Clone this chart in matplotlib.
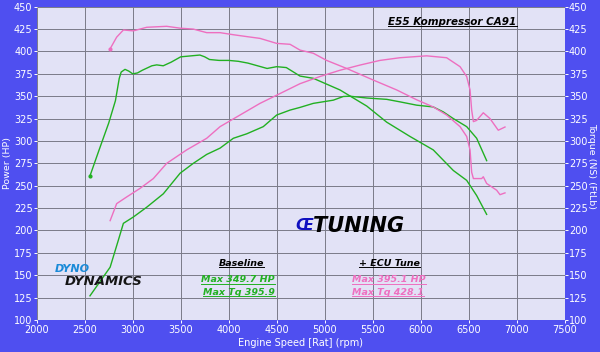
import matplotlib
matplotlib.use("Agg")
import matplotlib.pyplot as plt

# ---- data ----
base_tq_rpm = [2555, 2650, 2750, 2820, 2860, 2880, 2920, 2960, 3000, 3050, 3100, 3200, 3250, 3318,
               3400, 3500, 3600, 3700, 3750, 3800, 3900, 4000, 4100, 4200, 4300, 4400, 4500, 4600,
               4743, 4881, 5159, 5438, 5646, 5889, 6131, 6340, 6479, 6583, 6687]
base_tq = [261, 290, 320, 345, 370, 377, 380, 378, 375, 376, 379, 384, 385, 384,
           388, 394, 395, 396, 394, 391, 390, 390, 389, 387, 384, 381, 383, 382,
           372.5, 370, 357, 339, 321, 305, 290, 267, 256, 239, 218]

base_hp_rpm = [2555, 2765, 2850, 2903, 3006, 3146, 3319, 3494, 3631, 3771, 3910, 4048, 4188, 4360,
               4500, 4639, 4743, 4881, 5090, 5194, 5263, 5438, 5646, 5784, 5958, 6131, 6235, 6340,
               6479, 6583, 6687]
base_hp = [127, 159, 189, 208, 215, 226, 241, 264, 275, 285, 292, 303, 308, 316,
           329, 334.5, 337.5, 342, 345.6, 349.7, 350, 348, 346.5, 343.7, 340, 338, 332.5, 325,
           316, 303, 278]

tune_tq_rpm = [2765, 2833, 2903, 3006, 3146, 3354, 3494, 3631, 3771, 3910, 4048, 4188, 4326, 4500,
               4639, 4743, 4881, 5020, 5229, 5507, 5750, 5958, 6131, 6270, 6410, 6479, 6514, 6531,
               6549, 6635, 6652, 6687, 6791, 6826, 6878]
tune_tq = [403, 416, 424, 423, 427, 428.1, 426, 425, 421, 421, 418.7, 416.6, 414.6, 409,
           408, 401.5, 398, 390, 381, 368, 357, 346, 338, 329, 316, 305, 290, 265,
           258, 258, 260, 252.5, 245, 240, 242]

tune_hp_rpm = [2765, 2833, 2938, 3076, 3215, 3354, 3562, 3771, 3910, 4118, 4326, 4535, 4743, 4951,
               5159, 5368, 5576, 5784, 6062, 6270, 6410, 6479, 6514, 6531, 6549, 6583, 6652, 6722,
               6808, 6878]
tune_hp = [211, 230, 237.5, 247, 258, 275, 290, 303, 316, 329, 342, 353, 364, 372,
           379, 384.8, 390, 393, 395.1, 393, 383, 372, 357, 334.5, 321.6, 323, 331.5, 325,
           312, 315.6]

x_ticks = [2000, 2500, 3000, 3500, 4000, 4500, 5000, 5500, 6000, 6500, 7000, 7500]
y_ticks = [100, 125, 150, 175, 200, 225, 250, 275, 300, 325, 350, 375, 400, 425, 450]

GREEN = "#22b022"
PINK = "#ee6fc0"
BG = "#4f4ff0"
FACE = "#e2e2f6"

fig = plt.figure(figsize=(6, 3.52), dpi=100, facecolor=BG)
ax = fig.add_axes([36.7 / 600, 1 - 320 / 352, (564.7 - 36.7) / 600, (320 - 6.7) / 352])
ax.set_facecolor(FACE)

ax.plot(base_tq_rpm, base_tq, color=GREEN, lw=1.0)
ax.plot(base_hp_rpm, base_hp, color=GREEN, lw=1.0)
ax.plot(tune_tq_rpm, tune_tq, color=PINK, lw=1.0)
ax.plot(tune_hp_rpm, tune_hp, color=PINK, lw=1.0)
ax.plot([base_tq_rpm[0]], [base_tq[0]], 'o', color=GREEN, ms=2)
ax.plot([tune_tq_rpm[0]], [tune_tq[0]], 'o', color=PINK, ms=2)

ax.set_xlim(2000, 7500)
ax.set_ylim(100, 450)
ax.set_xticks(x_ticks)
ax.set_yticks(y_ticks)
ax.grid(True, color="#7a7a88", lw=0.7)
ax.set_axisbelow(True)
for s in ax.spines.values():
    s.set_visible(False)
ax.tick_params(axis='both', colors='white', labelsize=7, length=2.5, width=0.7, pad=1)
ax.tick_params(axis='y', right=True, labelright=True, left=True, labelleft=True, pad=0.5)

fig.text(300 / 600, 1 - 343 / 352, "Engine Speed [Rat] (rpm)", color="white", fontsize=7,
         ha="center", va="center")
fig.text(7.5 / 600, 1 - 163 / 352, "Power (HP)", color="white", fontsize=6.8, rotation=90,
         ha="center", va="center")
fig.text(592 / 600, 1 - 166 / 352, "Torque (NS) (FtLb)", color="white", fontsize=6.8, rotation=-90,
         ha="center", va="center")

def label(x, y, s, color, size=6.8):
    ax.text(x, y, s, color=color, fontsize=size, fontweight="bold", fontstyle="italic",
            ha="center", va="center")

label(6330, 433, "E55 Kompressor CA91", "black", 7.5)
label(4135, 163.6, "Baseline", "black")
label(4097, 145, "Max 349.7 HP", GREEN)
label(4107, 131, "Max Tq 395.9", GREEN)
label(5673, 163.6, "+ ECU Tune", "black")
label(5672, 145, "Max 395.1 HP", PINK)
label(5660, 131, "Max Tq 428.1", PINK)

# underlines
fig.canvas.draw()
r = fig.canvas.get_renderer()
for t in list(ax.texts):
    bb = t.get_window_extent(r).transformed(ax.transData.inverted())
    ax.plot([bb.x0, bb.x1], [bb.y0 + 0.5, bb.y0 + 0.5], color=t.get_color(), lw=0.7)

# logos as text
ax.text(4690, 205.5, "Œ", color="#1010c0", fontsize=11, fontweight="bold", fontstyle="italic",
        ha="left", va="center")
ax.text(4880, 205.5, "TUNING", color="black", fontsize=15, fontweight="bold", fontstyle="italic",
        ha="left", va="center")
ax.text(2190, 156.5, "DYNO", color="#1a8ad8", fontsize=8, fontweight="heavy", fontstyle="italic",
        ha="left", va="center")
ax.text(2290, 143.5, "DYNAMICS", color="#151515", fontsize=9.5, fontweight="heavy", fontstyle="italic",
        ha="left", va="center")

fig.savefig("out.png", dpi=100, facecolor=BG)
